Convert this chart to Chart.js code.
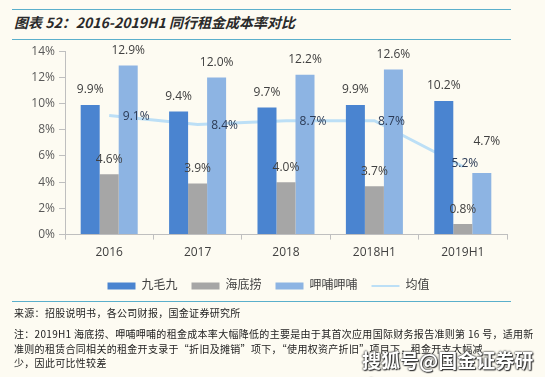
<!DOCTYPE html>
<html>
<head>
<meta charset="utf-8">
<script src="https://cdn.jsdelivr.net/npm/chart.js@4/dist/chart.umd.min.js"></script>
<style>
  html, body { margin: 0; padding: 0; background: #fdfbf2; }
  body { width: 545px; height: 377px; position: relative; overflow: hidden;
         font-family: "Noto Sans CJK SC", "Open Sans", sans-serif; }
  .rule { position: absolute; left: 12px; width: 499px; height: 0; border-top: 1.5px solid #5aafcb; }
  #title { position: absolute; left: 14px; top: 12px; font-size: 14px; font-weight: bold;
           font-style: italic; color: #2a2a2a; line-height: 20px; }
  #wrap { position: absolute; left: 0; top: 40px; width: 545px; height: 262px; }
  .foot { position: absolute; left: 14px; font-size: 10px; color: #222; letter-spacing: 0.3px;
          line-height: 14px; white-space: nowrap; }
  #mark { position: absolute; left: 362px; top: 346px; font-size: 19px; font-weight: bold;
          color: #fff; letter-spacing: 0px;
          text-shadow: 0 0 2px #333, 0 0 2px #333, 1px 1px 1px #333; }
</style>
</head>
<body>
<div class="rule" style="top:9px"></div>
<div id="title">图表 52：2016-2019H1 同行租金成本率对比</div>
<div class="rule" style="top:39px"></div>
<div id="wrap"><canvas id="chart"></canvas></div>
<div class="rule" style="top:301px"></div>
<div class="foot" style="top:306px">来源：招股说明书，各公司财报，国金证券研究所</div>
<div class="foot" style="top:327px">注：2019H1 海底捞、呷哺呷哺的租金成本率大幅降低的主要是由于其首次应用国际财务报告准则第 16 号，适用新</div>
<div class="foot" style="top:342px">准则的租赁合同相关的租金开支录于“折旧及摊销”项下，“使用权资产折旧”项目下，租金开支大幅减</div>
<div class="foot" style="top:356px">少，因此可比性较差</div>
<div id="mark">搜狐号@国金证券研究</div>
<script>
const categories = ["2016", "2017", "2018", "2018H1", "2019H1"];
const jiumaojiu = [9.9, 9.4, 9.7, 9.9, 10.2];
const haidilao = [4.6, 3.9, 4.0, 3.7, 0.8];
const xiabuxiabu = [12.9, 12.0, 12.2, 12.6, 4.7];
const average = [9.1, 8.4, 8.7, 8.7, 5.2];
const yTicks = [0, 2, 4, 6, 8, 10, 12, 14];

const FONT = "'Open Sans', 'Noto Sans CJK SC', sans-serif";
// horizontal nudge of the average labels (as placed in the original)
const lineLabelDx = [27, 27, 27, 17, 2];

// value labels: above bars, beside line points; bar labels step up if they hit a line label
const valueLabels = {
  id: "valueLabels",
  afterDatasetsDraw(chart) {
    const ctx = chart.ctx;
    ctx.save();
    ctx.font = "12px " + FONT;
    ctx.textBaseline = "middle";
    const lineBoxes = [];
    const barLabels = [];
    chart.data.datasets.forEach((ds, i) => {
      const meta = chart.getDatasetMeta(i);
      meta.data.forEach((el, j) => {
        const txt = ds.data[j].toFixed(1) + "%";
        const w = ctx.measureText(txt).width;
        if (ds.type === "line") {
          const cx = el.x + lineLabelDx[j], cy = el.y - (j === 4 ? 4 : 0) + 1;
          lineBoxes.push({ cx, cy, w });
          ctx.fillStyle = "#2b3a55";
          ctx.textAlign = "center";
          ctx.fillText(txt, cx, cy);
        } else {
          barLabels.push({ txt, cx: el.x, cy: el.y - 15, w });
        }
      });
    });
    ctx.fillStyle = "#404040";
    ctx.textAlign = "center";
    barLabels.forEach(b => {
      lineBoxes.forEach(l => {
        if (Math.abs(b.cx - l.cx) < (b.w + l.w) / 2 && Math.abs(b.cy - l.cy) < 14) {
          b.cy = l.cy - 22;
          b.cx += 5;
        }
      });
      ctx.fillText(b.txt, b.cx, b.cy);
    });
    ctx.restore();
  }
};

new Chart(document.getElementById("chart"), {
  data: {
    labels: categories,
    datasets: [
      { type: "bar", label: "九毛九", data: jiumaojiu, backgroundColor: "#4a84d0" },
      { type: "bar", label: "海底捞", data: haidilao, backgroundColor: "#a6a6a6" },
      { type: "bar", label: "呷哺呷哺", data: xiabuxiabu, backgroundColor: "#8db4e3" },
      { type: "line", label: "均值", data: average, borderColor: "#bcdff6",
        backgroundColor: "#bcdff6", borderWidth: 3, pointRadius: 0, tension: 0 }
    ]
  },
  options: {
    responsive: true,
    maintainAspectRatio: false,
    animation: false,
    layout: { padding: { left: 30, right: 38, top: 4, bottom: 0 } },
    datasets: { bar: { barPercentage: 1, categoryPercentage: 0.645 } },
    plugins: {
      tooltip: { enabled: false },
      legend: {
        position: "bottom",
        labels: {
          font: { family: FONT, size: 12 },
          color: "#404040",
          usePointStyle: true,
          pointStyleWidth: 28,
          boxHeight: 7,
          padding: 14,
          generateLabels(chart) {
            const items = Chart.defaults.plugins.legend.labels.generateLabels(chart);
            items.forEach(it => {
              const ds = chart.data.datasets[it.datasetIndex];
              if (ds.type === "line") {
                it.pointStyle = "line";
                it.lineWidth = 2;
                it.strokeStyle = ds.borderColor;
              } else {
                it.pointStyle = "rect";
                it.lineWidth = 0;
                it.strokeStyle = ds.backgroundColor;
              }
            });
            return items;
          }
        }
      }
    },
    scales: {
      x: {
        grid: { drawOnChartArea: false, color: "#bfbfbf", tickLength: 5 },
        border: { color: "#bfbfbf" },
        ticks: { color: "#404040", font: { family: FONT, size: 12 }, padding: 6 }
      },
      y: {
        min: 0, max: 14,
        afterBuildTicks(s) { s.ticks = yTicks.map(v => ({ value: v })); },
        afterFit(s) { s.width = 35; },
        grid: { drawOnChartArea: false, color: "#bfbfbf", tickLength: 6 },
        border: { color: "#bfbfbf" },
        ticks: { color: "#595959", font: { family: FONT, size: 12 }, padding: 4,
                 callback: v => v + "%" }
      }
    }
  },
  plugins: [valueLabels]
});
</script>
</body>
</html>
